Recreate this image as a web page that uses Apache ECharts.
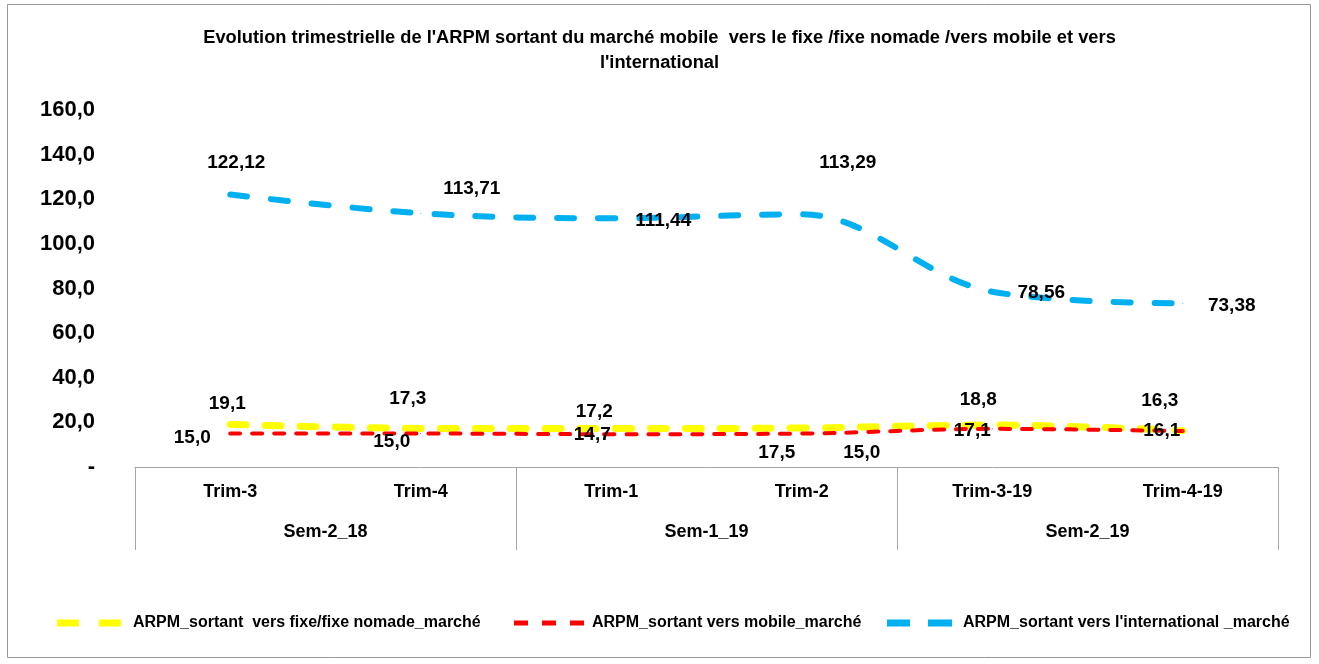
<!DOCTYPE html>
<html>
<head>
<meta charset="utf-8">
<script src="https://cdn.jsdelivr.net/npm/echarts@6/dist/echarts.min.js"></script>
<style>
  html, body { margin: 0; padding: 0; background: #fff; }
  #chart { width: 1319px; height: 664px; }
</style>
</head>
<body>
<div id="chart"></div>
<script>
// categories
const trimestres = ['Trim-3', 'Trim-4', 'Trim-1', 'Trim-2', 'Trim-3-19', 'Trim-4-19']
const semestres = ['Sem-2_18', 'Sem-1_19', 'Sem-2_19']
const yTicks = [0, 20, 40, 60, 80, 100, 120, 140, 160]

// series values
const fixeNomade = [19.1, 17.3, 17.2, 17.5, 18.8, 16.3]
const versMobile = [15.0, 15.0, 14.7, 15.0, 17.1, 16.1]
const international = [122.12, 113.71, 111.44, 113.29, 78.56, 73.38]

const names = [
  'ARPM_sortant  vers fixe/fixe nomade_marché',
  'ARPM_sortant vers mobile_marché',
  "ARPM_sortant vers l'international _marché"
]

// label offsets (style only, like in the source chart)
const offYellow = [[-3, -21], [-13, -30], [-17, -17], [-25, 25], [-14, -25], [-23, -30]]
const offRed = [[-38, 4], [-29, 8], [-19, 1], [60, 19], [-20, 2], [-21, 0]]
const offBlue = [[6, -32], [51, -25], [52, 2], [46, -51], [49, 1], [49, 2]]

const FONT = '"Liberation Sans", Arial, sans-serif'
const AXIS_COLOR = '#a6a6a6'

function fmt(v, d) {
  return v.toFixed(d).replace('.', ',')
}

function makeSeries(name, values, offsets, color, width, dash, decimals) {
  return {
    name: name,
    type: 'line',
    smooth: 0.35,
    symbol: 'circle',
    symbolSize: 1,
    color: color,
    itemStyle: { color: color },
    lineStyle: { color: color, width: width, type: dash, cap: 'round' },
    label: {
      show: true,
      position: 'inside',
      color: '#000',
      fontFamily: FONT,
      fontWeight: 'bold',
      fontSize: 19,
      formatter: p => fmt(p.value, decimals)
    },
    data: values.map((v, i) => ({ value: v, label: { offset: offsets[i] } }))
  }
}

function makeLegend(name, icon, left, w, h, pad) {
  return {
    data: [{ name: name, icon: icon }],
    left: left,
    top: 610,
    itemWidth: w,
    itemHeight: h,
    textStyle: {
      color: '#000',
      fontFamily: FONT,
      fontWeight: 'bold',
      fontSize: 16,
      padding: [0, 0, 0, pad]
    }
  }
}

const chart = echarts.init(document.getElementById('chart'))
chart.setOption({
  animation: false,
  backgroundColor: '#fff',
  title: {
    text: "Evolution trimestrielle de l'ARPM sortant du marché mobile  vers le fixe /fixe nomade /vers mobile et vers\nl'international",
    left: 'center',
    top: 20,
    textStyle: {
      fontFamily: FONT,
      fontWeight: 'bold',
      fontSize: 18.3,
      lineHeight: 25,
      color: '#000'
    }
  },
  graphic: [
    {
      type: 'rect',
      shape: { x: 7.5, y: 4.5, width: 1303, height: 653 },
      style: { fill: 'none', stroke: '#999', lineWidth: 1 },
      silent: true
    }
  ],
  legend: [
    makeLegend(names[0], 'path://M0,0H22V7H0Z M42,0H64V7H42Z', 52, 64, 7, 7),
    makeLegend(names[1], 'path://M0,0H14V5H0Z M28,0H42V5H28Z M56,0H70V5H56Z', 509, 70, 5, 3),
    makeLegend(names[2], 'path://M0,0H23V7H0Z M41,0H65V7H41Z', 882, 65, 7, 6)
  ],
  grid: {
    left: 135,
    right: 41,
    top: 110,
    bottom: 197
  },
  xAxis: [
    {
      type: 'category',
      data: trimestres,
      boundaryGap: true,
      axisLine: { show: true, lineStyle: { color: AXIS_COLOR, width: 1 } },
      axisTick: { show: false },
      axisLabel: {
        margin: 16,
        color: '#000',
        fontFamily: FONT,
        fontWeight: 'bold',
        fontSize: 18
      },
      splitLine: { show: false }
    },
    {
      type: 'category',
      data: semestres,
      position: 'bottom',
      boundaryGap: true,
      axisLine: { show: false },
      axisTick: { show: true, length: 83, lineStyle: { color: AXIS_COLOR, width: 1 } },
      axisLabel: {
        margin: 56,
        color: '#000',
        fontFamily: FONT,
        fontWeight: 'bold',
        fontSize: 18
      },
      splitLine: { show: false }
    }
  ],
  yAxis: {
    type: 'value',
    min: yTicks[0],
    max: yTicks[yTicks.length - 1],
    interval: yTicks[1] - yTicks[0],
    axisLine: { show: false },
    axisTick: { show: false },
    splitLine: { show: false },
    axisLabel: {
      margin: 40,
      color: '#000',
      fontFamily: FONT,
      fontWeight: 'bold',
      fontSize: 22,
      formatter: v => (v === 0 ? '-' : fmt(v, 1))
    }
  },
  series: [
    makeSeries(names[0], fixeNomade, offYellow, '#ffff00', 7, [16, 19], 1),
    makeSeries(names[1], versMobile, offRed, '#ff0000', 4, [10, 12], 1),
    makeSeries(names[2], international, offBlue, '#00b0f0', 6, [17, 24], 2)
  ]
})
</script>
</body>
</html>
